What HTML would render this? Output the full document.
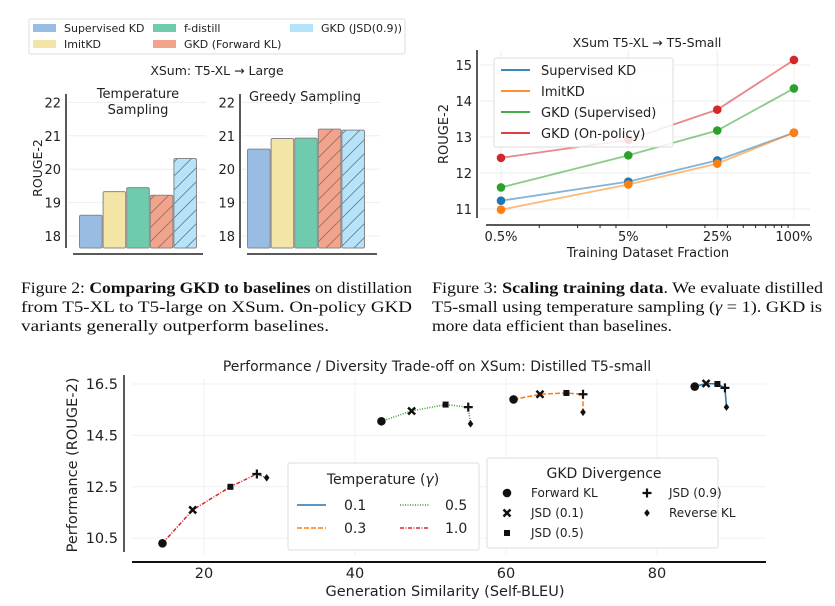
<!DOCTYPE html>
<html><head><meta charset="utf-8"><style>
html,body{margin:0;padding:0;background:#fff}
svg{display:block}
.c{font-family:"DejaVu Sans","Liberation Sans",sans-serif;fill:#222}
.cap{font-family:"Liberation Serif",serif;font-size:15.5px;fill:#111}
</style></head><body>
<svg id="fig" width="835" height="606" viewBox="0 0 835 606" xmlns="http://www.w3.org/2000/svg">
<defs>
<pattern id="hatch" width="14" height="14" patternUnits="userSpaceOnUse">
<path d="M-2,16 L16,-2 M-2,2 L2,-2 M12,16 L16,12" stroke="#777" stroke-width="0.8"/>
</pattern>
</defs>
<g>
<rect x="29" y="19" width="376" height="35" fill="#fff" stroke="#ddd" rx="2"/>
<rect x="33" y="24" width="23" height="8" fill="#99bde2"/><text class="c" x="64" y="32" font-size="11">Supervised KD</text>
<rect x="33" y="40" width="23" height="8" fill="#f3e5a5"/><text class="c" x="64" y="48" font-size="11">ImitKD</text>
<rect x="153" y="24" width="23" height="8" fill="#6fcbad"/><text class="c" x="184" y="32" font-size="11">f-distill</text>
<rect x="153" y="40" width="23" height="8" fill="#f2a38b"/><text class="c" x="184" y="48" font-size="11">GKD (Forward KL)</text>
<rect x="290" y="24" width="23" height="8" fill="#b5e3fa"/><text class="c" x="321" y="32" font-size="11">GKD (JSD(0.9))</text>
</g>
<text class="c" x="217" y="75" font-size="12.5" text-anchor="middle">XSum: T5-XL → Large</text>
<text class="c" x="0" y="0" font-size="12.5" text-anchor="middle" transform="translate(42,168) rotate(-90)">ROUGE-2</text>
<text class="c" x="138" y="98" font-size="13" text-anchor="middle">Temperature</text>
<text class="c" x="138" y="114" font-size="13" text-anchor="middle">Sampling</text>
<text class="c" x="305" y="101" font-size="13" text-anchor="middle">Greedy Sampling</text>
<g id="bars"></g>
<text class="c" x="647" y="47" font-size="12.5" text-anchor="middle">XSum T5-XL → T5-Small</text>
<text class="c" x="0" y="0" font-size="13" text-anchor="middle" transform="translate(448,134) rotate(-90)">ROUGE-2</text>
<text class="c" x="648" y="257" font-size="13" text-anchor="middle">Training Dataset Fraction</text>
<g id="scal"></g>
<text class="cap" x="21" y="293" textLength="391" lengthAdjust="spacingAndGlyphs">Figure 2: <tspan font-weight="bold">Comparing GKD to baselines</tspan> on distillation</text>
<text class="cap" x="21" y="312" textLength="391" lengthAdjust="spacingAndGlyphs">from T5-XL to T5-large on XSum.  On-policy GKD</text>
<text class="cap" x="21" y="331" textLength="308" lengthAdjust="spacingAndGlyphs">variants generally outperform baselines.</text>
<text class="cap" x="432" y="293" textLength="391" lengthAdjust="spacingAndGlyphs">Figure 3: <tspan font-weight="bold">Scaling training data</tspan>. We evaluate distilled</text>
<text class="cap" x="432" y="312" textLength="390" lengthAdjust="spacingAndGlyphs">T5-small using temperature sampling (<tspan font-style="italic">γ</tspan> = 1). GKD is</text>
<text class="cap" x="432" y="331" textLength="240" lengthAdjust="spacingAndGlyphs">more data efficient than baselines.</text>
<text class="c" x="437" y="371" font-size="14" text-anchor="middle">Performance / Diversity Trade-off on XSum: Distilled T5-small</text>
<text class="c" x="445" y="596" font-size="14.5" text-anchor="middle">Generation Similarity (Self-BLEU)</text>
<text class="c" x="0" y="0" font-size="14.5" text-anchor="middle" transform="translate(77,465) rotate(-90)">Performance (ROUGE-2)</text>
<g id="trade"></g>
<g>
<rect x="288" y="463" width="191" height="87" fill="#fff" stroke="#ddd" rx="2"/>
<text class="c" x="383" y="484" font-size="14" text-anchor="middle">Temperature (<tspan font-style="italic">γ</tspan>)</text>
<line x1="297" y1="505" x2="326" y2="505" stroke="#1f77b4" stroke-width="1.5"/><text class="c" x="344" y="510" font-size="14">0.1</text>
<line x1="297" y1="528" x2="326" y2="528" stroke="#ff7f0e" stroke-width="1.5" stroke-dasharray="5,2"/><text class="c" x="344" y="533" font-size="14">0.3</text>
<line x1="400" y1="505" x2="429" y2="505" stroke="#2ca02c" stroke-width="1.5" stroke-dasharray="1,1.5"/><text class="c" x="445" y="510" font-size="14">0.5</text>
<line x1="400" y1="528" x2="429" y2="528" stroke="#d62728" stroke-width="1.5" stroke-dasharray="4,1.5,1,1.5"/><text class="c" x="445" y="533" font-size="14">1.0</text>
</g>
<g id="divleg">
<rect x="487" y="458" width="231" height="90" fill="#fff" stroke="#ddd" rx="2"/>
<text class="c" x="604" y="478" font-size="14" text-anchor="middle">GKD Divergence</text>
<text class="c" x="531" y="497" font-size="12">Forward KL</text>
<text class="c" x="531" y="517" font-size="12">JSD (0.1)</text>
<text class="c" x="531" y="537" font-size="12">JSD (0.5)</text>
<text class="c" x="669" y="497" font-size="12">JSD (0.9)</text>
<text class="c" x="669" y="517" font-size="12">Reverse KL</text>
</g>
</svg>
<script>
const NS='http://www.w3.org/2000/svg';
const barMethods=['Supervised KD','ImitKD','f-distill','GKD (Forward KL)','GKD (JSD(0.9))'];
const tempValues=[18.62,19.33,19.45,19.22,20.32];
const greedyValues=[20.6,20.92,20.93,21.2,21.17];
const barTicks=[18,19,20,21,22];
const fractions=[0.5,5,25,100];
const fracLabels=['0.5%','5%','25%','100%'];
const supKD=[11.23,11.76,12.35,13.12];
const imitKD=[10.98,11.68,12.26,13.12];
const gkdSup=[11.6,12.49,13.18,14.35];
const gkdOnPolicy=[12.42,12.92,13.76,15.14];
const scalTicks=[11,12,13,14,15];
const divergences=['Forward KL','JSD (0.1)','JSD (0.5)','JSD (0.9)','Reverse KL'];
const temps=['0.1','0.3','0.5','1.0'];
const bleuT01=[85,86.5,88,89,89.2];
const rougeT01=[16.4,16.52,16.5,16.35,15.6];
const bleuT03=[61,64.5,68,70.2,70.2];
const rougeT03=[15.9,16.1,16.15,16.1,15.4];
const bleuT05=[43.5,47.5,52,55,55.3];
const rougeT05=[15.05,15.45,15.7,15.6,14.95];
const bleuT10=[14.5,18.5,23.5,27,28.3];
const rougeT10=[10.3,11.6,12.5,13.0,12.85];
const tradeXTicks=[20,40,60,80];
const tradeYTicks=[10.5,12.5,14.5,16.5];

function mk(tag,attrs,parent){const e=document.createElementNS(NS,tag);for(const k in attrs)e.setAttribute(k,attrs[k]);parent.appendChild(e);return e;}
function txt(x,y,s,size,anchor,parent){const t=mk('text',{x:x,y:y,'font-size':size,'text-anchor':anchor,class:'c'},parent);t.textContent=s;return t;}

const bars=document.getElementById('bars');
const colors=['#99bde2','#f3e5a5','#6fcbad','#f2a38b','#b5e3fa'];
const by=v=>236-(v-18)*33.4;
const baseY=248;
function panel(x0,axisX,vals,name){
  barTicks.forEach(t=>{const g=mk('line',{x1:axisX+2,x2:axisX+140,y1:by(t),y2:by(t),stroke:'#eee','stroke-width':1},bars);
    
    const l=txt(axisX-5,by(t)+5,String(t),13,'end',bars);
    });
  const ax=mk('line',{x1:axisX,x2:axisX,y1:94,y2:248,stroke:'#222','stroke-width':1.5},bars);
  
  const bx=mk('line',{x1:axisX+7,x2:axisX+137,y1:254,y2:254,stroke:'#222','stroke-width':1.5},bars);
  
  vals.forEach((v,i)=>{
    const x=x0+i*23.6,y=by(v);
    const r=mk('rect',{x:x,y:y,width:22.6,height:baseY-y,fill:colors[i],stroke:'#888','stroke-width':1,rx:1.5},bars);
    
    if(i>=3){const h=mk('rect',{x:x,y:y,width:22.6,height:baseY-y,fill:'url(#hatch)',stroke:'none'},bars);
      }
  });
}
panel(79.5,66,tempValues,'temperature');
panel(247.5,240,greedyValues,'greedy');

const sc=document.getElementById('scal');
const sx=f=>501+(Math.log10(f)-Math.log10(0.5))*127.3;
const sy=v=>209-(v-11)*36;
scalTicks.forEach(t=>{const g=mk('line',{x1:480,x2:810,y1:sy(t),y2:sy(t),stroke:'#eee'},sc);
  
  const l=txt(472,sy(t)+5,String(t),13,'end',sc);});
fractions.forEach((f,i)=>{const g=mk('line',{x1:sx(f),x2:sx(f),y1:50,y2:218,stroke:'#eee'},sc);
  
  const l=txt(sx(f),241,fracLabels[i],13,'middle',sc);});
[1,2,3,4,10,20,30,40,50,60,70,80,90].forEach(m=>{const t=mk('line',{x1:sx(m),x2:sx(m),y1:225,y2:228,stroke:'#222'},sc);
  });
let a=mk('line',{x1:477,x2:477,y1:50,y2:218,stroke:'#222','stroke-width':1.5},sc);
a=mk('line',{x1:486,x2:810,y1:225,y2:225,stroke:'#222','stroke-width':1.5},sc);
const sSeries=[[supKD,'#1f77b4','supervised-kd'],[imitKD,'#ff7f0e','imitkd'],[gkdSup,'#2ca02c','gkd-supervised'],[gkdOnPolicy,'#d62728','gkd-on-policy']];
sSeries.forEach(([vals,col,nm])=>{
  const p=mk('polyline',{points:vals.map((v,i)=>sx(fractions[i])+','+sy(v)).join(' '),fill:'none',stroke:col,'stroke-width':1.8,'stroke-opacity':0.55},sc);
  
  vals.forEach((v,i)=>{const c=mk('circle',{cx:sx(fractions[i]),cy:sy(v),r:4.3,fill:col},sc);
    });
});
const lg=mk('g',{},sc);
mk('rect',{x:494,y:58,width:179,height:89,fill:'#fff','fill-opacity':0.85,stroke:'#ddd',rx:2},lg);
['Supervised KD','ImitKD','GKD (Supervised)','GKD (On-policy)'].forEach((s,i)=>{
  mk('line',{x1:501,x2:530,y1:70+i*21,y2:70+i*21,stroke:sSeries[i][1],'stroke-width':1.8},lg);
  txt(541,75+i*21,s,13,'start',lg);});

const tr=document.getElementById('trade');
const tx=v=>204+(v-20)*7.55;
const ty=v=>384-(v-16.5)*25.7;
tradeYTicks.forEach(t=>{const g=mk('line',{x1:132,x2:766,y1:ty(t),y2:ty(t),stroke:'#f0f0f0'},tr);
  
  const l=txt(118,ty(t)+5,t.toFixed(1),14.5,'end',tr);});
tradeXTicks.forEach(t=>{const g=mk('line',{x1:tx(t),x2:tx(t),y1:378,y2:555,stroke:'#f0f0f0'},tr);
  
  const l=txt(tx(t),578,String(t),14.5,'middle',tr);});
a=mk('line',{x1:124,x2:124,y1:375,y2:552,stroke:'#222','stroke-width':1.5},tr);
a=mk('line',{x1:132,x2:766,y1:562,y2:562,stroke:'#111','stroke-width':2},tr);
function marker(k,x,y,parent){
  let e;
  if(k===0)e=mk('circle',{cx:x,cy:y,r:4.3,fill:'#111'},parent);
  else if(k===1)e=mk('path',{d:`M${x-3.5},${y-3.5}L${x+3.5},${y+3.5}M${x+3.5},${y-3.5}L${x-3.5},${y+3.5}`,stroke:'#111','stroke-width':2.5},parent);
  else if(k===2)e=mk('rect',{x:x-3,y:y-3,width:6,height:6,fill:'#111'},parent);
  else if(k===3)e=mk('path',{d:`M${x-4.5},${y}L${x+4.5},${y}M${x},${y-4.5}L${x},${y+4.5}`,stroke:'#111','stroke-width':2.2},parent);
  else e=mk('path',{d:`M${x},${y-3.8}L${x+2.8},${y}L${x},${y+3.8}L${x-2.8},${y}Z`,fill:'#111'},parent);
  return e;
}
const tSeries=[[bleuT01,rougeT01,'#1f77b4','none','t-0.1'],[bleuT03,rougeT03,'#ff7f0e','5,2','t-0.3'],[bleuT05,rougeT05,'#2ca02c','1,1.5','t-0.5'],[bleuT10,rougeT10,'#d62728','4,1.5,1,1.5','t-1.0']];
tSeries.forEach(([xs,ys,col,dash,nm])=>{
  const p=mk('polyline',{points:xs.map((v,i)=>tx(v)+','+ty(ys[i])).join(' '),fill:'none',stroke:col,'stroke-width':1.5,'stroke-dasharray':dash},tr);
  
  xs.forEach((v,i)=>{const m=marker(i,tx(v),ty(ys[i]),tr);
    });
});
const dl=document.getElementById('divleg');
[[0,507,493],[1,507,513],[2,507,533],[3,647,493],[4,647,513]].forEach(([k,x,y])=>{const m=marker(k,x,y,dl);
  });
</script>
</body></html>
